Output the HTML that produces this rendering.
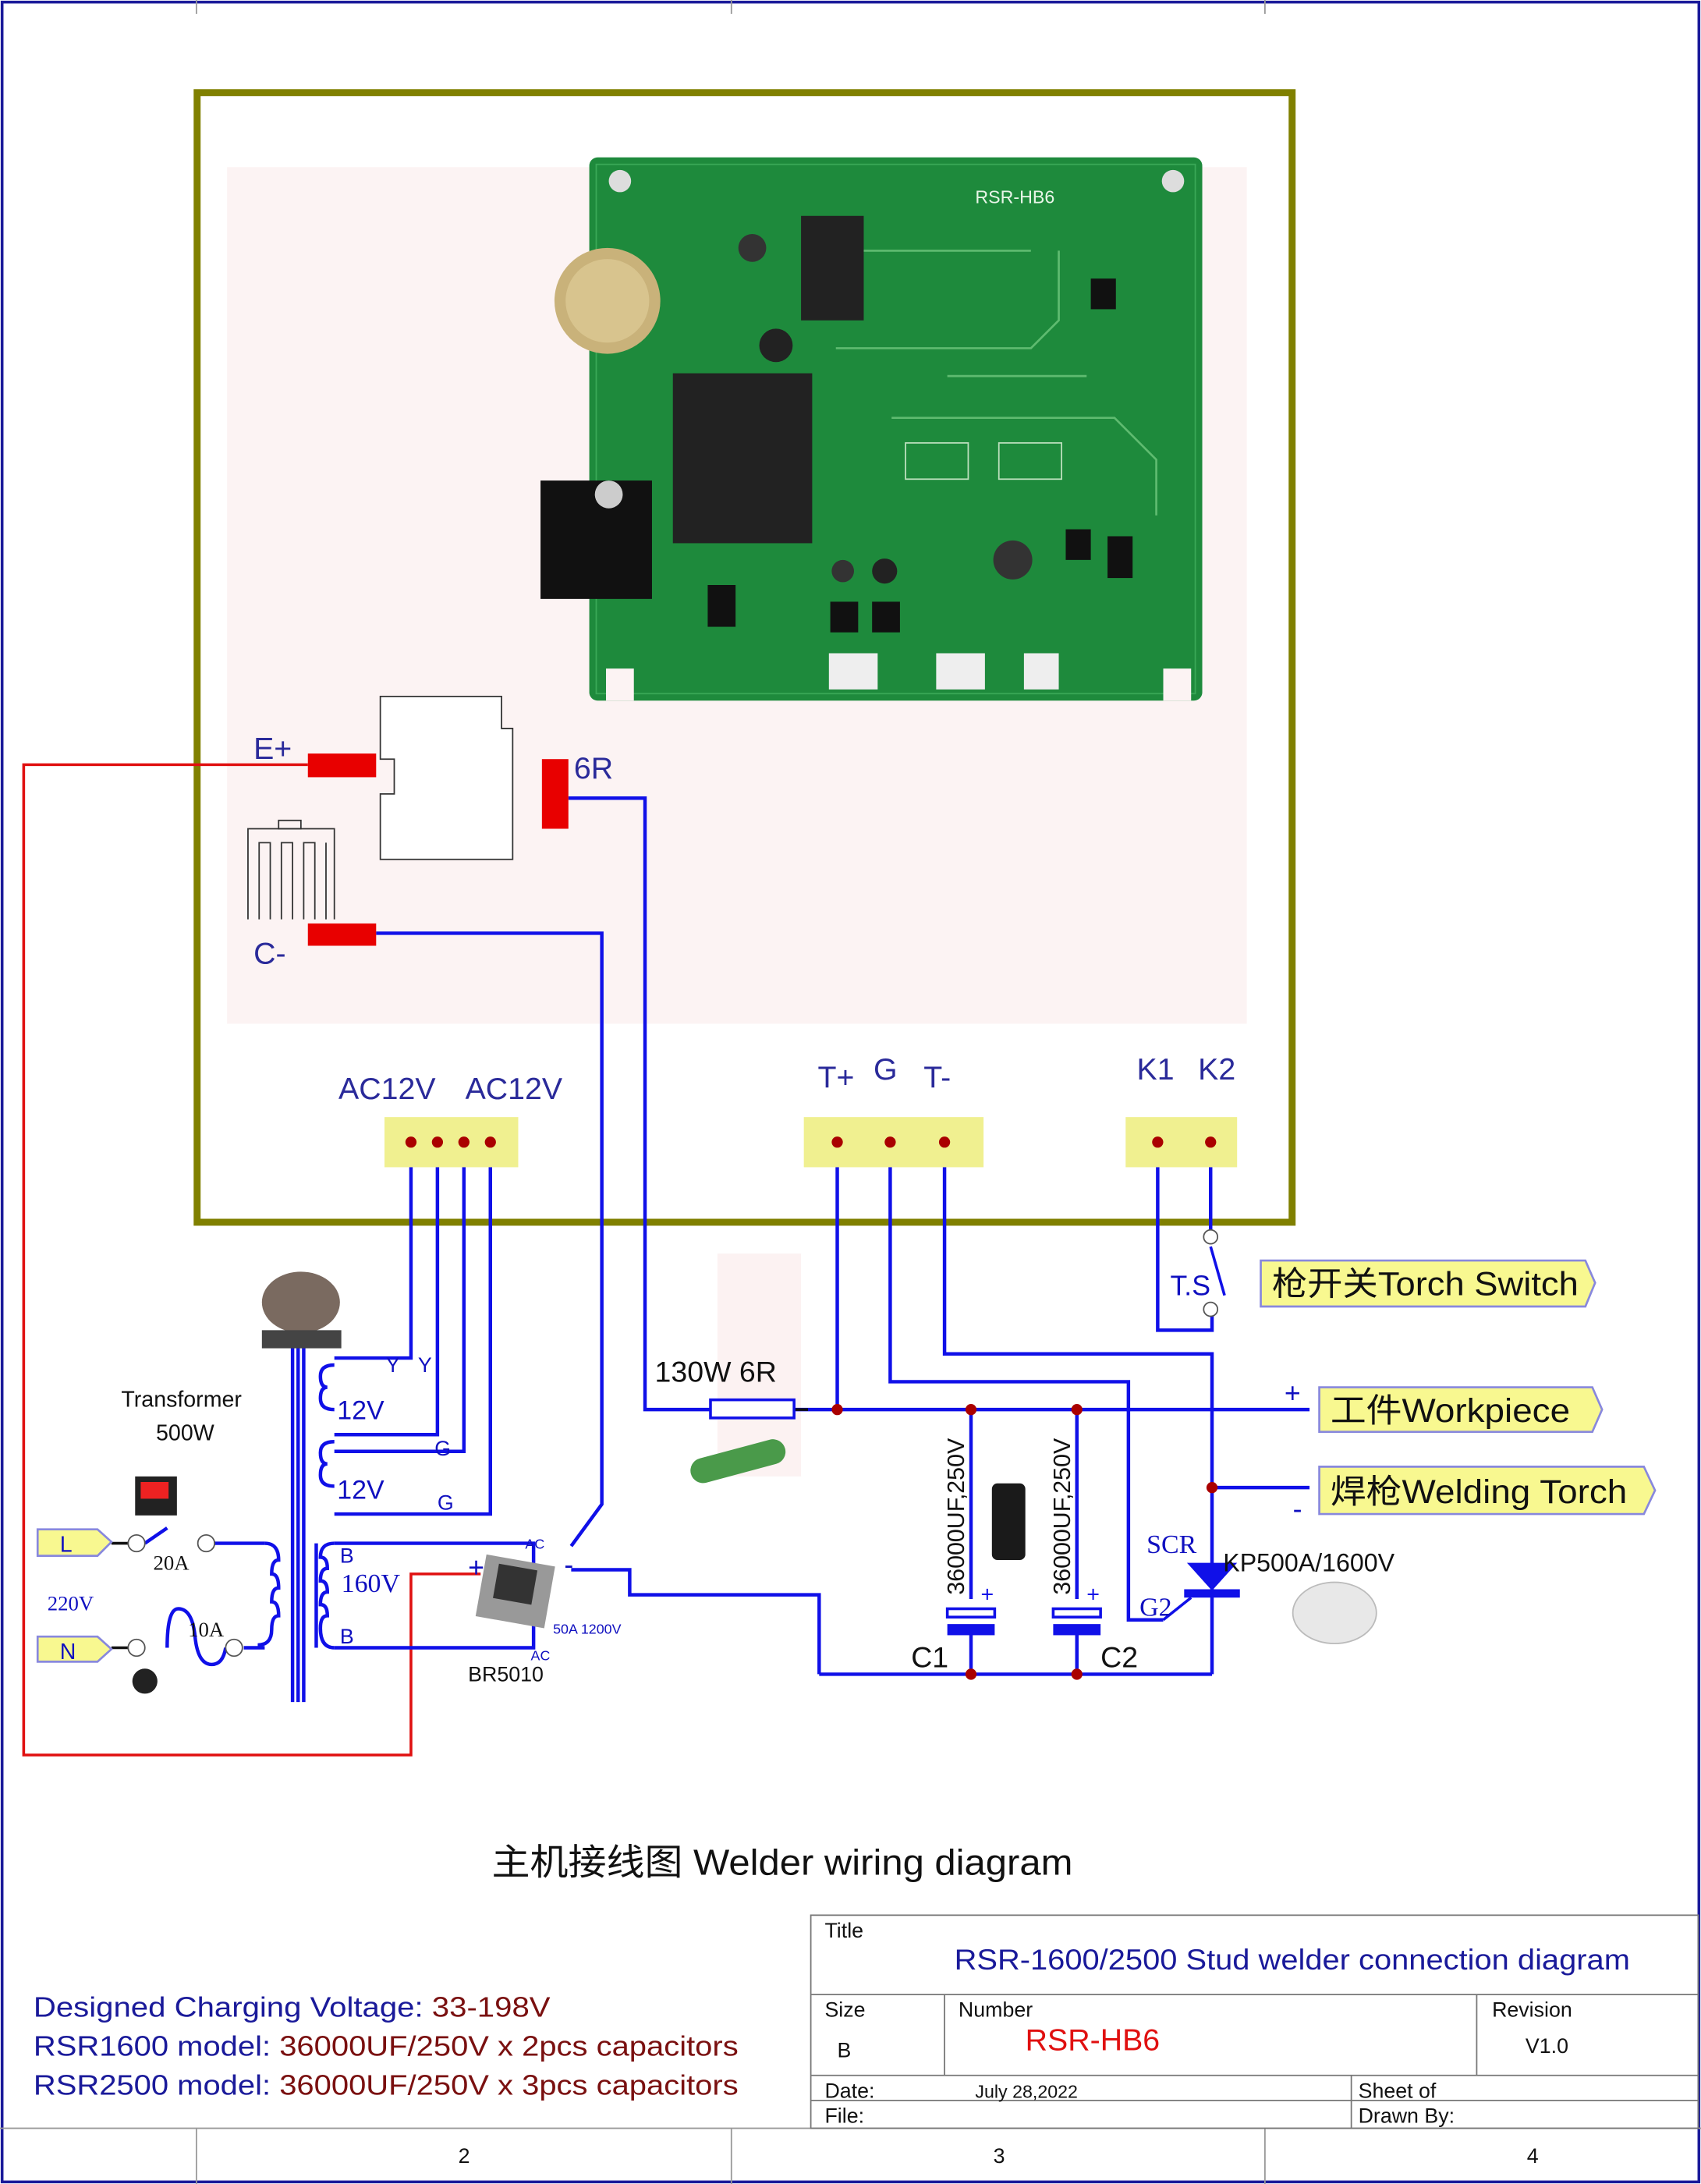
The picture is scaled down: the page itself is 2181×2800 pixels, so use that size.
<!DOCTYPE html>
<html><head><meta charset="utf-8"><style>
html,body{margin:0;padding:0;background:#fff;}
svg{display:block;}
text{font-family:"Liberation Sans","Noto Sans CJK SC",sans-serif;}
.ser{font-family:"Liberation Serif",serif;}
</style></head><body>
<svg width="2181" height="2800" viewBox="0 0 1221 1568" preserveAspectRatio="none" xmlns="http://www.w3.org/2000/svg">
<rect x="0" y="0" width="1221" height="1568" fill="#fff"/>
<rect x="1.5" y="1.5" width="1218" height="1565" fill="none" stroke="#1a1a9a" stroke-width="2"/>
<g stroke="#999" stroke-width="1">
<line x1="141" y1="0" x2="141" y2="10"/><line x1="525" y1="0" x2="525" y2="10"/><line x1="908" y1="0" x2="908" y2="10"/>
<line x1="0" y1="1528" x2="1221" y2="1528"/>
<line x1="141" y1="1528" x2="141" y2="1568"/><line x1="525" y1="1528" x2="525" y2="1568"/><line x1="908" y1="1528" x2="908" y2="1568"/>
</g>
<g font-size="15" fill="#111"><text x="329" y="1553">2</text><text x="713" y="1553">3</text><text x="1096" y="1553">4</text></g>

<rect x="163" y="120" width="732" height="615" fill="#fcf3f3"/>
<rect x="515" y="900" width="60" height="160" fill="#fcf2f2"/>
<rect x="423" y="113" width="440" height="390" rx="6" fill="#1e8a3c"/>
<rect x="428" y="118" width="430" height="380" fill="none" stroke="#3aa857" stroke-width="1"/>
<circle cx="445" cy="130" r="8" fill="#ddd"/><circle cx="842" cy="130" r="8" fill="#ddd"/>
<rect x="435" y="480" width="20" height="23" fill="#fcf3f3"/><rect x="835" y="480" width="20" height="23" fill="#fcf3f3"/>
<text x="700" y="146" font-size="13" fill="#e8f5e8">RSR-HB6</text>
<circle cx="436" cy="216" r="38" fill="#c9b27a"/><circle cx="436" cy="216" r="30" fill="#d8c48e"/>
<rect x="483" y="268" width="100" height="122" fill="#222"/>
<rect x="575" y="155" width="45" height="75" fill="#222"/>
<rect x="388" y="345" width="80" height="85" fill="#111"/>
<circle cx="437" cy="355" r="10" fill="#ccc"/>
<circle cx="540" cy="178" r="10" fill="#333"/><circle cx="557" cy="248" r="12" fill="#222"/>
<circle cx="727" cy="402" r="14" fill="#333"/><circle cx="605" cy="410" r="8" fill="#333"/><circle cx="635" cy="410" r="9" fill="#222"/>
<rect x="595" y="469" width="35" height="26" fill="#eee"/><rect x="672" y="469" width="35" height="26" fill="#eee"/><rect x="735" y="469" width="25" height="26" fill="#eee"/>
<rect x="650" y="318" width="45" height="26" fill="none" stroke="#bde0be"/><rect x="717" y="318" width="45" height="26" fill="none" stroke="#bde0be"/>
<g fill="#111"><rect x="765" y="380" width="18" height="22"/><rect x="795" y="385" width="18" height="30"/><rect x="783" y="200" width="18" height="22"/><rect x="596" y="432" width="20" height="22"/><rect x="626" y="432" width="20" height="22"/><rect x="508" y="420" width="20" height="30"/></g>
<g stroke="#5fbb70" stroke-width="1.5" fill="none"><path d="M600 250 L740 250 L760 230 L760 180"/><path d="M640 300 L800 300 L830 330 L830 370"/><path d="M680 270 L780 270 M620 180 L740 180"/></g>

<rect x="141.5" y="66.5" width="786" height="811" fill="none" stroke="#808000" stroke-width="5"/>

<path d="M273 500 H360 V523 H368 V617 H273 V570 H283 V545 H273 Z" fill="#fff" stroke="#333" stroke-width="1"/>
<g fill="none" stroke="#333" stroke-width="1">
<path d="M178 660 V595 H240 V660 M186 660 V605 H194 V660 M202 660 V605 H210 V660 M218 660 V605 H226 V660 M234 660 V605"/>
<rect x="200" y="589" width="16" height="6"/>
</g>

<path d="M221 549 H17 V1260 H295 V1130 H345" fill="none" stroke="#e01010" stroke-width="2"/>
<g fill="none" stroke="#1010e8" stroke-width="2.5">
<path d="M408 573 H463 V1012 H510"/>
<path d="M270 670 H432 V1080 L410 1110"/>
<path d="M295 820 V975 H240"/>
<path d="M314 820 V1030 H240"/>
<path d="M333 820 V1042 H240"/>
<path d="M352 820 V1087 H240"/>
<path d="M570 1012 H940"/>
<path d="M601 820 V1012"/>
<path d="M639 820 V992 H810 V1163 H835"/>
<path d="M678 820 V972 H870 V1202"/>
<path d="M831 820 V955 H870 V940"/>
<path d="M869 820 V885"/>
<path d="M870 1068 H940"/>
<path d="M697 1012 V1148 M697 1172 V1202"/>
<path d="M773 1012 V1148 M773 1172 V1202"/>
<path d="M588 1202 H870"/>
<path d="M588 1202 V1145 H452 V1127 H410"/>
<path d="M240 1108 H383 V1130"/>
<path d="M240 1183 H383 V1155"/>
<path d="M148 1108 H190"/><path d="M175 1183 H190"/>
<path d="M210 965 V1222 M214 965 V1222 M218 965 V1222"/>
<path d="M227 1108 V1183"/>
<path d="M240 980 q-10 0 -10 8 q0 8 5 8 q-5 0 -5 8 q0 8 10 8 M240 1035 q-10 0 -10 8 q0 8 5 8 q-5 0 -5 8 q0 8 10 8"/>
<path d="M240 1108 q-10 0 -10 10 q5 0 5 8 q-5 0 -5 9 q5 0 5 8 q-5 0 -5 9 q5 0 5 8 q-5 0 -5 9 q0 14 10 14"/>
<path d="M190 1108 q10 0 10 12 q-5 0 -5 10 q5 0 5 10 q-5 0 -5 10 q5 0 5 10 q-5 0 -5 10 q0 11 -10 11"/>
<path d="M104 1108 L120 1097"/>
<path d="M120 1183 q0 -28 8 -28 q10 0 12 20 q2 20 12 20 q8 0 10 -12"/>
</g>
<g stroke="#111" stroke-width="2"><line x1="80" y1="1108" x2="92" y2="1108"/><line x1="80" y1="1183" x2="92" y2="1183"/><line x1="560" y1="1012" x2="580" y2="1012"/></g>
<g fill="#fff" stroke="#555" stroke-width="1"><circle cx="98" cy="1108" r="6"/><circle cx="148" cy="1108" r="6"/><circle cx="98" cy="1183" r="6"/><circle cx="168" cy="1183" r="6"/>
<circle cx="869" cy="888" r="5"/><circle cx="869" cy="940" r="5"/></g>
<line x1="869" y1="895" x2="879" y2="930" stroke="#1010e8" stroke-width="2"/>

<rect x="510" y="1005" width="60" height="13" fill="#fff" stroke="#1010e8" stroke-width="2"/>
<rect x="495" y="1040" width="70" height="18" rx="9" fill="#4a9a4a" transform="rotate(-15 530 1050)"/>

<g fill="#1010e8"><rect x="680" y="1155" width="34" height="6" fill="#fff" stroke="#1010e8" stroke-width="2"/><rect x="680" y="1166" width="34" height="8"/>
<rect x="756" y="1155" width="34" height="6" fill="#fff" stroke="#1010e8" stroke-width="2"/><rect x="756" y="1166" width="34" height="8"/></g>
<text x="704" y="1150" font-size="16" fill="#1010e8">+</text><text x="780" y="1150" font-size="16" fill="#1010e8">+</text>
<rect x="712" y="1065" width="24" height="55" rx="4" fill="#1a1a1a"/>
<path d="M852 1122 H888 L870 1142 Z" fill="#1010e8"/>
<rect x="850" y="1141" width="40" height="6" fill="#1010e8"/>
<path d="M835 1163 L855 1147" stroke="#1010e8" stroke-width="2"/>
<ellipse cx="958" cy="1158" rx="30" ry="22" fill="#e8e8e8" stroke="#bbb"/>
<rect x="345" y="1120" width="50" height="45" fill="#999" transform="rotate(10 370 1142)"/>
<rect x="355" y="1125" width="28" height="25" fill="#333" transform="rotate(10 370 1142)"/>
<ellipse cx="216" cy="935" rx="28" ry="22" fill="#7a6a60"/><rect x="188" y="955" width="57" height="13" fill="#444"/>
<rect x="97" y="1060" width="30" height="28" fill="#222"/><rect x="101" y="1064" width="20" height="12" fill="#e22"/>
<circle cx="104" cy="1207" r="9" fill="#222"/>

<rect x="221" y="541" width="49" height="17" fill="#e80000"/>
<rect x="389" y="545" width="19" height="50" fill="#e80000"/>
<rect x="221" y="663" width="49" height="16" fill="#e80000"/>
<rect x="276" y="802" width="96" height="36" fill="#f0f090"/>
<rect x="577" y="802" width="129" height="36" fill="#f0f090"/>
<rect x="808" y="802" width="80" height="36" fill="#f0f090"/>
<g fill="#a00"><circle cx="295" cy="820" r="4"/><circle cx="314" cy="820" r="4"/><circle cx="333" cy="820" r="4"/><circle cx="352" cy="820" r="4"/>
<circle cx="601" cy="820" r="4"/><circle cx="639" cy="820" r="4"/><circle cx="678" cy="820" r="4"/><circle cx="831" cy="820" r="4"/><circle cx="869" cy="820" r="4"/>
<circle cx="601" cy="1012" r="4"/><circle cx="697" cy="1012" r="4"/><circle cx="773" cy="1012" r="4"/><circle cx="870" cy="1068" r="4"/><circle cx="697" cy="1202" r="4"/><circle cx="773" cy="1202" r="4"/></g>

<g fill="#2a2a9a" font-size="22">
<text x="182" y="545">E+</text><text x="412" y="559">6R</text><text x="182" y="692">C-</text>
<text x="243" y="789">AC12V</text><text x="334" y="789">AC12V</text>
<text x="587" y="781">T+</text><text x="627" y="775">G</text><text x="663" y="781">T-</text>
<text x="816" y="775">K1</text><text x="860" y="775">K2</text>
</g>
<g fill="#1010c0" font-size="15"><text x="277" y="985">Y</text><text x="300" y="985">Y</text><text x="312" y="1045">G</text><text x="314" y="1084">G</text><text x="244" y="1122">B</text><text x="244" y="1180">B</text></g>
<g fill="#1010c0" font-size="19"><text x="242" y="1019">12V</text><text x="242" y="1076">12V</text></g>
<text x="245" y="1143" font-size="19" fill="#1010c0" class="ser">160V</text>
<text x="34" y="1156" font-size="15" fill="#1010c0" class="ser">220V</text>
<text x="110" y="1127" font-size="15" class="ser" fill="#111">20A</text>
<text x="135" y="1175" font-size="15" class="ser" fill="#111">10A</text>
<text x="87" y="1010" font-size="16" fill="#111">Transformer</text><text x="112" y="1034" font-size="16" fill="#111">500W</text>
<text x="336" y="1207" font-size="15" fill="#111">BR5010</text>
<g fill="#1010c0" font-size="10"><text x="377" y="1112">AC</text><text x="381" y="1192">AC</text><text x="397" y="1173">50A  1200V</text></g>
<text x="336" y="1132" font-size="20" fill="#1010c0">+</text><text x="405" y="1130" font-size="20" fill="#1010c0">-</text>
<text x="470" y="992" font-size="21" fill="#111">130W 6R</text>
<text x="840" y="930" font-size="20" fill="#1010c0">T.S</text>
<text x="823" y="1115" font-size="19" fill="#1010c0" class="ser">SCR</text>
<text x="818" y="1160" font-size="19" fill="#1010c0" class="ser">G2</text>
<text x="878" y="1128" font-size="18" fill="#111">KP500A/1600V</text>
<text x="654" y="1197" font-size="21" fill="#111">C1</text><text x="790" y="1197" font-size="21" fill="#111">C2</text>
<text transform="translate(692 1145) rotate(-90)" font-size="17" fill="#111">36000UF,250V</text>
<text transform="translate(768 1145) rotate(-90)" font-size="17" fill="#111">36000UF,250V</text>

<g fill="#f8f890" stroke="#8888dd" stroke-width="1.5">
<path d="M27 1098 H70 L80 1107 L70 1117 H27 Z"/>
<path d="M27 1175 H70 L80 1184 L70 1193 H27 Z"/>
<path d="M905 905 H1138 L1145 921 L1138 938 H905 Z"/>
<path d="M947 996 H1143 L1150 1012 L1143 1028 H947 Z"/>
<path d="M947 1053 H1180 L1188 1070 L1180 1087 H947 Z"/>
</g>
<text x="43" y="1114" font-size="16" fill="#1010c0">L</text><text x="43" y="1191" font-size="16" fill="#1010c0">N</text>
<g font-size="24" fill="#111"><text x="913" y="930" textLength="220" lengthAdjust="spacingAndGlyphs">枪开关Torch Switch</text><text x="955" y="1021" textLength="172" lengthAdjust="spacingAndGlyphs">工件Workpiece</text><text x="955" y="1079" textLength="213" lengthAdjust="spacingAndGlyphs">焊枪Welding Torch</text></g>
<text x="922" y="1007" font-size="20" fill="#1010c0">+</text><text x="928" y="1090" font-size="20" fill="#1010c0">-</text>

<text x="353" y="1346" font-size="26" fill="#111" textLength="417" lengthAdjust="spacingAndGlyphs">主机接线图  Welder wiring diagram</text>

<g font-size="20"><text x="24" y="1448" textLength="371" lengthAdjust="spacingAndGlyphs"><tspan fill="#1a1a9a">Designed Charging Voltage: </tspan><tspan fill="#7a1010">33-198V</tspan></text>
<text x="24" y="1476" textLength="506" lengthAdjust="spacingAndGlyphs"><tspan fill="#1a1a9a">RSR1600 model: </tspan><tspan fill="#7a1010">36000UF/250V x 2pcs capacitors</tspan></text>
<text x="24" y="1504" textLength="506" lengthAdjust="spacingAndGlyphs"><tspan fill="#1a1a9a">RSR2500 model: </tspan><tspan fill="#7a1010">36000UF/250V x 3pcs capacitors</tspan></text></g>

<g fill="none" stroke="#777" stroke-width="1">
<rect x="582" y="1375" width="637" height="153"/>
<line x1="582" y1="1432" x2="1219" y2="1432"/><line x1="582" y1="1490" x2="1219" y2="1490"/><line x1="582" y1="1508" x2="1219" y2="1508"/>
<line x1="678" y1="1432" x2="678" y2="1490"/><line x1="1060" y1="1432" x2="1060" y2="1490"/><line x1="970" y1="1490" x2="970" y2="1528"/>
</g>
<g font-size="15" fill="#111"><text x="592" y="1391">Title</text><text x="592" y="1448">Size</text><text x="601" y="1477">B</text><text x="688" y="1448">Number</text><text x="1071" y="1448">Revision</text><text x="1095" y="1474">V1.0</text>
<text x="592" y="1506">Date:</text><text x="700" y="1506" font-size="13">July 28,2022</text><text x="592" y="1524">File:</text><text x="975" y="1506">Sheet    of</text><text x="975" y="1524">Drawn By:</text></g>
<text x="685" y="1414" font-size="21" fill="#1a1a9a" textLength="485" lengthAdjust="spacingAndGlyphs">RSR-1600/2500 Stud welder connection diagram</text>
<text x="736" y="1472" font-size="22" fill="#e01010">RSR-HB6</text>
</svg>
</body></html>
